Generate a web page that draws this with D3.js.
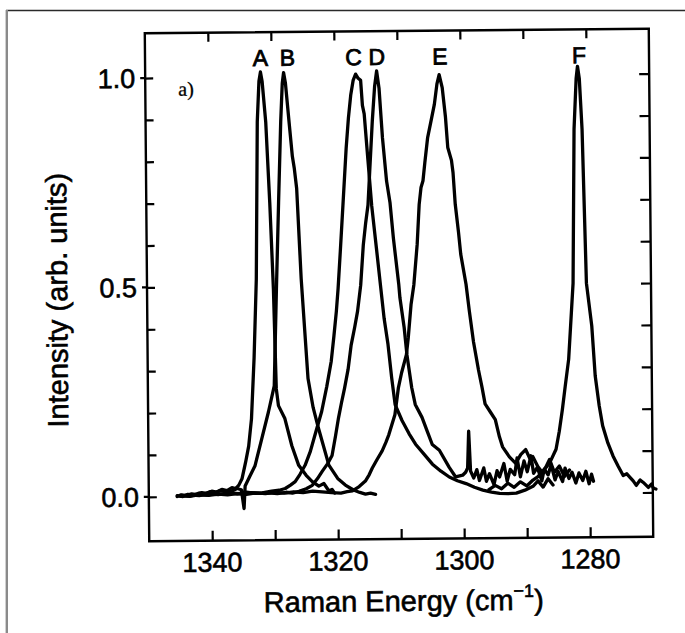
<!DOCTYPE html>
<html><head><meta charset="utf-8">
<script src="https://cdn.jsdelivr.net/npm/d3@7"></script>
<style>
html,body{margin:0;padding:0;background:#fff;}
svg{display:block;}
text{font-family:"Liberation Sans",Arial,Helvetica,sans-serif;fill:#000;}
</style></head><body>
<svg id="chart" width="685" height="633"></svg>
<script>
// Raman energy (cm^-1), intensity (arb. units)
const spectrumA = [[1345.5,0.000],[1344.8,0.004],[1344.0,0.002],[1343.2,0.006],[1342.4,0.004],[1341.6,0.009],[1340.8,0.007],[1340.0,0.012],[1339.2,0.010],[1338.4,0.016],[1337.6,0.013],[1336.8,0.020],[1336.2,0.018],[1335.7,0.026],[1335.19,0.041],[1334.6,0.080],[1334.08,0.119],[1333.6,0.184],[1333.1,0.330],[1332.64,0.518],[1332.27,0.893],[1331.95,0.990],[1331.7,1.012],[1331.45,0.990],[1330.93,0.893],[1330.4,0.700],[1329.94,0.494],[1329.62,0.255],[1329.3,0.215],[1328.3,0.184],[1327.23,0.119],[1326.17,0.072],[1325.0,0.048],[1324.04,0.033],[1323.0,0.022],[1322.2,0.028],[1321.4,0.010],[1320.9,0.014],[1320.5,0.005]];
const spectrumB = [[1345.5,0.002],[1344.6,0.000],[1343.8,0.005],[1342.9,0.003],[1342.0,0.008],[1341.1,0.006],[1340.2,0.011],[1339.4,0.009],[1338.6,0.014],[1337.7,0.012],[1336.8,0.012],[1336.0,0.018],[1335.3,0.015],[1334.9,-0.030],[1334.7,0.024],[1334.0,0.045],[1333.1,0.072],[1332.0,0.136],[1330.9,0.200],[1329.94,0.262],[1329.46,0.494],[1329.0,0.700],[1328.55,0.893],[1328.25,0.985],[1328.03,1.010],[1327.75,0.985],[1327.23,0.893],[1326.75,0.810],[1326.45,0.780],[1326.11,0.733],[1325.52,0.518],[1324.57,0.279],[1323.8,0.210],[1322.98,0.160],[1321.38,0.072],[1320.0,0.040],[1318.79,0.024],[1317.5,0.012],[1316.5,0.006],[1315.61,0.002],[1314.8,0.004],[1314.01,0.001]];
const spectrumC = [[1345.0,0.001],[1343.5,0.004],[1342.0,0.002],[1340.5,0.006],[1339.0,0.004],[1337.5,0.008],[1336.0,0.005],[1334.5,0.009],[1333.0,0.006],[1332.0,0.007],[1330.5,0.011],[1329.3,0.013],[1328.34,0.017],[1327.5,0.025],[1326.75,0.033],[1326.0,0.050],[1325.16,0.072],[1324.3,0.105],[1323.57,0.143],[1322.45,0.200],[1321.6,0.260],[1320.86,0.320],[1320.4,0.380],[1319.98,0.439],[1319.67,0.494],[1319.27,0.582],[1318.79,0.692],[1318.20,0.828],[1317.8,0.900],[1317.40,0.955],[1317.0,0.990],[1316.6,1.005],[1316.2,0.995],[1315.81,0.990],[1315.56,0.930],[1315.29,0.910],[1314.76,0.800],[1314.22,0.690],[1313.54,0.590],[1312.90,0.494],[1312.4,0.420],[1311.83,0.359],[1311.3,0.280],[1310.78,0.215],[1309.71,0.177],[1308.6,0.145],[1307.59,0.120],[1306.2,0.095],[1304.94,0.072],[1303.6,0.055],[1302.28,0.041],[1301.0,0.032],[1299.63,0.025],[1298.3,0.016],[1296.97,0.009],[1295.6,0.004],[1294.31,0.001],[1293.0,0.000],[1291.67,0.001],[1290.3,0.008],[1289.01,0.017],[1288.2,0.030],[1287.4,0.015],[1286.6,0.035],[1285.83,0.020]];
const spectrumD = [[1345.0,0.003],[1343.6,0.001],[1342.2,0.005],[1340.8,0.003],[1339.4,0.006],[1338.0,0.004],[1336.6,0.007],[1335.2,0.005],[1333.8,0.008],[1332.4,0.006],[1331.0,0.007],[1329.6,0.005],[1328.2,0.008],[1327.2,0.006],[1326.16,0.010],[1325.0,0.016],[1324.04,0.024],[1323.2,0.040],[1322.45,0.057],[1321.6,0.075],[1320.86,0.095],[1320.3,0.140],[1319.79,0.184],[1319.3,0.220],[1318.79,0.255],[1318.2,0.300],[1317.68,0.358],[1317.1,0.400],[1316.61,0.439],[1316.08,0.501],[1315.61,0.597],[1315.2,0.650],[1314.81,0.692],[1314.49,0.773],[1314.01,0.893],[1313.6,0.975],[1313.26,1.012],[1312.90,0.971],[1312.42,0.852],[1311.83,0.749],[1311.31,0.697],[1310.83,0.613],[1310.03,0.501],[1309.87,0.470],[1309.24,0.399],[1308.84,0.334],[1308.12,0.255],[1307.59,0.215],[1306.53,0.184],[1305.7,0.150],[1304.94,0.119],[1303.82,0.105],[1302.28,0.064],[1301.27,0.041],[1300.16,0.045],[1299.68,0.052],[1299.36,0.062],[1299.15,0.150],[1298.9,0.055],[1298.4,0.038],[1297.9,0.058],[1297.5,0.032],[1296.8,0.062],[1296.4,0.030],[1295.9,0.048],[1295.2,0.022],[1294.7,0.055],[1294.3,0.040],[1293.6,0.072],[1293.1,0.030],[1292.6,0.058],[1291.9,0.045],[1291.5,0.085],[1291.0,0.040],[1290.4,0.078],[1289.9,0.052],[1289.3,0.090],[1288.9,0.048],[1288.3,0.062],[1287.6,0.030],[1287.2,0.058],[1286.6,0.044],[1286.1,0.068],[1285.5,0.032],[1285.0,0.052],[1284.3,0.028],[1283.9,0.060],[1283.3,0.035],[1282.8,0.050],[1282.2,0.024],[1281.7,0.048],[1281.1,0.030],[1280.6,0.052],[1280.1,0.022],[1279.7,0.045],[1279.4,0.028]];
const spectrumE = [[1345.0,0.002],[1343.5,0.000],[1342.0,0.004],[1340.5,0.002],[1339.0,0.005],[1337.5,0.003],[1336.0,0.006],[1334.5,0.004],[1333.0,0.007],[1331.5,0.005],[1330.0,0.008],[1328.5,0.006],[1327.0,0.009],[1325.5,0.007],[1324.0,0.010],[1322.5,0.008],[1321.0,0.006],[1319.5,0.005],[1318.5,0.008],[1317.68,0.010],[1316.6,0.020],[1315.61,0.033],[1315.0,0.048],[1314.49,0.064],[1313.7,0.085],[1312.90,0.105],[1312.3,0.125],[1311.83,0.143],[1310.83,0.191],[1310.24,0.255],[1309.71,0.291],[1308.92,0.334],[1308.60,0.375],[1308.12,0.453],[1307.64,0.501],[1307.06,0.597],[1306.69,0.692],[1306.37,0.733],[1306.05,0.749],[1305.73,0.792],[1305.25,0.852],[1304.67,0.893],[1304.14,0.931],[1303.7,0.980],[1303.34,1.002],[1302.87,0.971],[1302.39,0.900],[1302.07,0.828],[1301.50,0.797],[1301.27,0.768],[1300.96,0.692],[1300.48,0.625],[1300.16,0.573],[1299.36,0.501],[1298.89,0.439],[1298.25,0.363],[1297.50,0.296],[1296.97,0.255],[1296.50,0.215],[1295.70,0.196],[1294.90,0.177],[1294.27,0.136],[1293.79,0.112],[1292.72,0.088],[1291.72,0.072],[1290.92,0.093],[1290.13,0.105],[1289.49,0.084],[1289.01,0.088],[1288.22,0.064],[1287.42,0.048],[1286.35,0.081],[1285.6,0.050],[1284.8,0.065],[1284.0,0.040],[1283.2,0.055]];
const spectrumF = [[1296.0,0.010],[1295.0,0.020],[1294.0,0.012],[1293.0,0.025],[1292.0,0.015],[1291.0,0.028],[1290.0,0.018],[1289.0,0.032],[1288.2,0.040],[1287.42,0.053],[1286.35,0.072],[1285.30,0.105],[1284.76,0.148],[1284.24,0.200],[1283.76,0.255],[1283.17,0.320],[1282.37,0.501],[1282.0,0.869],[1281.6,0.990],[1281.37,1.019],[1281.1,0.990],[1280.73,0.869],[1280.25,0.501],[1279.46,0.399],[1278.98,0.279],[1278.39,0.208],[1277.87,0.160],[1277.07,0.119],[1276.27,0.088],[1275.48,0.064],[1274.68,0.041],[1274.1,0.045],[1273.57,0.036],[1273.1,0.028],[1272.61,0.017],[1272.0,0.030],[1271.50,0.024],[1270.70,0.012],[1270.2,0.020],[1269.90,0.010],[1269.5,0.008]];

const peakNames = ["A","B","C","D","E","F"];
const peakLabelX = [1331.7,1327.4,1316.9,1313.2,1303.2,1281.1];
const xTicks = [1340,1330,1320,1310,1300,1290,1280];
const xTickLabels = [1340,1320,1300,1280];
const yTicks = [0,0.1,0.2,0.3,0.4,0.5,0.6,0.7,0.8,0.9,1.0];
const yTickLabels = [0.0,0.5,1.0];
const xTitle = "Raman Energy (cm";
const yTitle = "Intensity (arb. units)";
const panelLabel = "a)";

const spectra = [spectrumA,spectrumB,spectrumC,spectrumD,spectrumE,spectrumF];

const svg = d3.select("#chart");
const W = 685, H = 633;
svg.append("rect").attr("width",W).attr("height",H).attr("fill","#fff");
// page frame (top and left edge visible)
svg.append("line").attr("x1",6).attr("x2",W).attr("y1",10.5).attr("y2",10.5).attr("stroke","#2a2a2a").attr("stroke-width",1.6);
svg.append("line").attr("x1",6.8).attr("x2",6.8).attr("y1",10).attr("y2",H).attr("stroke","#8a8a8a").attr("stroke-width",2.4);

const L = 147, R = 651, T = 31, B = 539;
const x = d3.scaleLinear().domain([1350,1270]).range([L,R]);
const y = d3.scaleLinear().domain([-0.106,1.107]).range([B,T]);

const g = svg.append("g").attr("transform","rotate(-0.5,400,285)");

// frame box
g.append("rect").attr("x",L).attr("y",T).attr("width",R-L).attr("height",B-T)
 .attr("fill","none").attr("stroke","#000").attr("stroke-width",2.4);

// bottom axis
const xb = g.append("g").attr("transform",`translate(0,${B})`)
  .call(d3.axisBottom(x).tickValues(xTicks).tickSizeInner(-10).tickSizeOuter(0).tickFormat(""));
xb.select(".domain").remove();
xb.selectAll(".tick line").attr("stroke","#000").attr("stroke-width",2.2);
const xt = g.append("g").attr("transform",`translate(0,${T})`)
  .call(d3.axisTop(x).tickValues(xTicks).tickSizeInner(-9).tickSizeOuter(0).tickFormat(""));
xt.select(".domain").remove();
xt.selectAll(".tick line").attr("stroke","#000").attr("stroke-width",2.2);

// bottom tick labels
g.selectAll("text.xl").data(xTickLabels).join("text").attr("class","xl")
 .attr("x",d=>x(d)).attr("y",B+31).attr("text-anchor","middle")
 .attr("font-size",27).attr("stroke","#000").attr("stroke-width",0.6).text(d=>d);

// left axis
const yl = g.append("g").attr("transform",`translate(${L},0)`)
  .call(d3.axisLeft(y).tickValues(yTicks).tickSizeInner(-8).tickSizeOuter(0).tickFormat(""));
yl.select(".domain").remove();
yl.selectAll(".tick line").attr("stroke","#000").attr("stroke-width",2.2);
g.selectAll("line.ymaj").data(yTickLabels).join("line").attr("class","ymaj")
 .attr("x1",L-5).attr("x2",L).attr("y1",d=>y(d)).attr("y2",d=>y(d))
 .attr("stroke","#000").attr("stroke-width",2.2);
const yr = g.append("g").attr("transform",`translate(${R},0)`)
  .call(d3.axisRight(y).tickValues(yTicks).tickSizeInner(-10).tickSizeOuter(0).tickFormat(""));
yr.select(".domain").remove();
yr.selectAll(".tick line").attr("stroke","#000").attr("stroke-width",2.2);

g.selectAll("text.yl").data(yTickLabels).join("text").attr("class","yl")
 .attr("x",L-10).attr("y",d=>y(d)).attr("dy","0.36em").attr("text-anchor","end")
 .attr("font-size",27).attr("stroke","#000").attr("stroke-width",0.6).text(d=>d.toFixed(1));

// spectra
const line = d3.line().x(d=>x(d[0])).y(d=>y(d[1]));
g.selectAll("path.spec").data(spectra).join("path").attr("class","spec")
 .attr("d",line).attr("fill","none").attr("stroke","#000").attr("stroke-width",3.3)
 .attr("stroke-linejoin","round").attr("stroke-linecap","round");

// peak letters
g.selectAll("text.pk").data(peakNames).join("text").attr("class","pk")
 .attr("x",(d,i)=>x(peakLabelX[i])).attr("y",y(1.0)-11).attr("text-anchor","middle")
 .attr("font-size",23).attr("stroke","#000").attr("stroke-width",0.8).text(d=>d);

// panel label
g.append("text").attr("x",180).attr("y",y(1.0)+18)
 .style("font-family","'Liberation Serif','Times New Roman',serif").attr("font-size",20)
 .attr("stroke","#000").attr("stroke-width",0.3).text(panelLabel);

// axis titles
const xtt = g.append("text").attr("x",(L+R)/2+2).attr("y",B+72).attr("text-anchor","middle")
 .attr("font-size",29).attr("stroke","#000").attr("stroke-width",0.6);
xtt.append("tspan").text(xTitle);
xtt.append("tspan").attr("font-size",18).attr("dy",-13).text("\u22121");
xtt.append("tspan").attr("dy",13).text(")");

g.append("text").attr("transform",`translate(67,${(y(0)+y(1))/2+12}) rotate(-90)`)
 .attr("text-anchor","middle").attr("font-size",29).attr("stroke","#000").attr("stroke-width",0.6).text(yTitle);
</script>
</body></html>
